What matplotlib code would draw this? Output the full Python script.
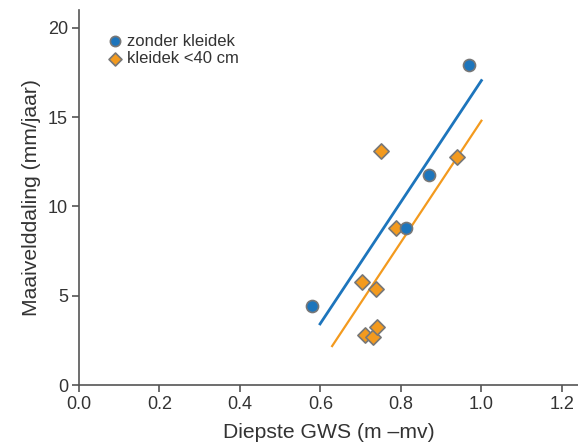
import numpy as np
import matplotlib.pyplot as plt

plt.rcParams['font.family'] = ['Liberation Sans', 'DejaVu Sans']

# zonder kleidek
x_zonder = [0.579, 0.812, 0.870, 0.969]
y_zonder = [4.43, 8.8, 11.76, 17.93]
# kleidek <40 cm
x_klei = [0.703, 0.711, 0.730, 0.738, 0.740, 0.750, 0.788, 0.939]
y_klei = [5.77, 2.8, 2.69, 5.38, 3.25, 13.1, 8.8, 12.77]
# trendlijnen (eindpunten)
line_zonder_x = [0.599, 1.0]
line_zonder_y = [3.42, 17.05]
line_klei_x = [0.629, 1.0]
line_klei_y = [2.18, 14.8]

blue = '#1d75bc'
orange = '#f39a1e'
grey = '#555555'
txt = '#333333'

fig = plt.figure(figsize=(5.78, 4.46), dpi=100)
ax = fig.add_axes([79/578, 61/446, 499/578, 375/446])

ax.plot(line_zonder_x, line_zonder_y, color=blue, lw=2)
ax.plot(line_klei_x, line_klei_y, color=orange, lw=1.6)
ax.scatter(x_klei, y_klei, marker='D', s=60, color=orange, edgecolor='#777777',
           linewidth=1.2, zorder=3, label='kleidek <40 cm')
ax.scatter(x_zonder, y_zonder, marker='o', s=75, color=blue, edgecolor='#777777',
           linewidth=1.2, zorder=4, label='zonder kleidek')

ax.set_xlim(0, 1.24)
ax.set_ylim(0, 21)
ax.set_xticks([0.0, 0.2, 0.4, 0.6, 0.8, 1.0, 1.2])
ax.set_yticks([0, 5, 10, 15, 20])
ax.xaxis.set_major_formatter(plt.FormatStrFormatter('%.1f'))

for side in ['top', 'right']:
    ax.spines[side].set_visible(False)
for side in ['left', 'bottom']:
    ax.spines[side].set_color(grey)
    ax.spines[side].set_linewidth(1.2)
ax.tick_params(colors=grey, labelcolor=txt, labelsize=13, length=5, width=1.2, pad=3)

ax.set_xlabel('Diepste GWS (m \u2013mv)', fontsize=15.2, color=txt, labelpad=7)
ax.set_ylabel('Maaivelddaling (mm/jaar)', fontsize=15.2, color=txt, labelpad=5)

h, l = ax.get_legend_handles_labels()
ax.legend(h[::-1], l[::-1], loc='upper left', frameon=False, fontsize=12,
          handlelength=1.0, handletextpad=0.2, borderaxespad=0, labelspacing=0.15,
          markerscale=0.85, bbox_to_anchor=(0.042, 0.955), labelcolor=txt)

fig.savefig('out.png', dpi=100)
